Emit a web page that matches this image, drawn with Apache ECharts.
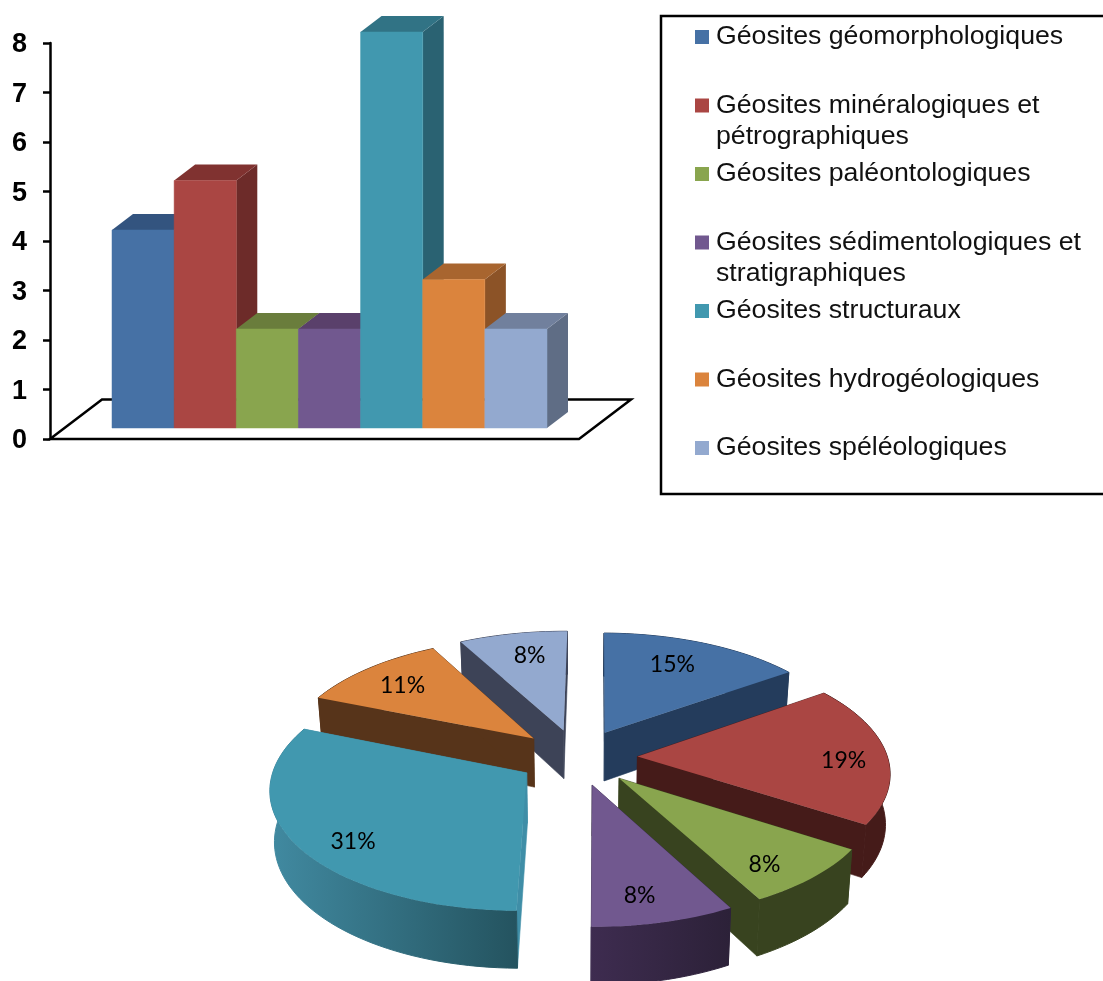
<!DOCTYPE html>
<html lang="fr">
<head>
<meta charset="utf-8">
<title>Géosites</title>
<script src="https://cdn.jsdelivr.net/npm/echarts@6/dist/echarts.min.js"></script>
<style>
  html, body { margin: 0; padding: 0; background: #fff; }
  #chart { width: 1103px; height: 981px; }
</style>
</head>
<body>
<div id="chart"></div>
<script>
// Nombre de géosites par catégorie
const categories = [
  'Géosites géomorphologiques',
  'Géosites minéralogiques et pétrographiques',
  'Géosites paléontologiques',
  'Géosites sédimentologiques et stratigraphiques',
  'Géosites structuraux',
  'Géosites hydrogéologiques',
  'Géosites spéléologiques'
];
const siteCounts = [4, 5, 2, 2, 8, 3, 2];
const pieShares = [15, 19, 8, 8, 31, 11, 8];
const yTicks = [0, 8];

// Libellés de légende, coupés aux mêmes endroits que la ligne de texte
const legendLines = [
  ['Géosites géomorphologiques'],
  ['Géosites minéralogiques et', 'pétrographiques'],
  ['Géosites paléontologiques'],
  ['Géosites sédimentologiques et', 'stratigraphiques'],
  ['Géosites structuraux'],
  ['Géosites hydrogéologiques'],
  ['Géosites spéléologiques']
];

// Teintes des faces
const frontColors = ['#4671a5', '#aa4643', '#89a54e', '#71588f', '#4198af', '#db843d', '#93a9cf'];
const topColors = ['#33547f', '#803230', '#6a7d3c', '#5a406b', '#317385', '#a8652f', '#71809d'];
const sideColors = ['#2f4b6e', '#6d2b29', '#56682f', '#4a3a5f', '#2a6272', '#8c5327', '#5f6d85'];
const pieWallColors = ['#243c5c', '#451b19', '#38431f', '#35284a', '#3f8ea7', '#57341a', '#3d4357'];
const pieRimColors = [
  ['#243c5c', '#243c5c'], ['#451b19', '#451b19'], ['#38431f', '#38431f'], ['#3e2c50', '#2c2138'],
  ['#418aa1', '#24535f'], ['#57341a', '#57341a'], ['#3d4357', '#3d4357']
];
const labelRadius = [0.74, 0.82, 0.82, 0.81, 0.82, 0.77, 0.76];
const labelTurn = [-3.1, 3.2, 4.2, 2.5, -6.4, -0.9, 1.7];

// Extrusion des barres et décalage vers le fond du plancher
const DEPTH_X = 21, DEPTH_Y = 16, BASE_SHIFT = 11;

function renderBar(params, api) {
  const i = api.value(0);
  const top = api.coord([i, api.value(1)]);
  const bottom = api.coord([i, 0]);
  const w = api.size([1, 0])[0];
  const x0 = top[0] - w / 2, x1 = top[0] + w / 2;
  const y0 = top[1] - BASE_SHIFT, y1 = bottom[1] - BASE_SHIFT;
  return {
    type: 'group',
    children: [
      { type: 'polygon', shape: { points: [[x1, y0], [x1 + DEPTH_X, y0 - DEPTH_Y], [x1 + DEPTH_X, y1 - DEPTH_Y], [x1, y1]] },
        style: { fill: sideColors[i] } },
      { type: 'polygon', shape: { points: [[x0, y0], [x0 + DEPTH_X, y0 - DEPTH_Y], [x1 + DEPTH_X, y0 - DEPTH_Y], [x1, y0]] },
        style: { fill: topColors[i] } },
      { type: 'rect', shape: { x: x0, y: y0, width: w, height: y1 - y0 },
        style: { fill: frontColors[i], stroke: frontColors[i], lineWidth: 0.5 } }
    ]
  };
}

// Projection en perspective du disque du secteur éclaté
const PIE = { cx: 577.5, cy: 757, dist: 8.26, fx: 2065, fy: 968, burst: 0.24, thick: 49.5, shrink: 0.985, turn: 0.6 };
const rad = (d) => d * Math.PI / 180;

function project(X, Y, lower) {
  const s = PIE.dist + Y;
  let x = PIE.fx * X / s;
  let y = -PIE.fy * Y / s;
  if (lower) {
    x *= PIE.shrink;
    y += PIE.thick * PIE.dist / s;
  }
  return [PIE.cx + x, PIE.cy + y];
}

const pieTotal = pieShares.reduce((a, b) => a + b, 0);
let running = 0;
const pieSlices = pieShares.map((v, i) => {
  const start = running / pieTotal * 360 + PIE.turn;
  running += v;
  const end = running / pieTotal * 360 + PIE.turn;
  return { i, v, start, end, mid: (start + end) / 2 };
});
// Du fond vers l'avant, pour que les secteurs proches recouvrent les autres
const pieOrder = pieSlices.slice().sort((a, b) => Math.cos(rad(b.mid)) - Math.cos(rad(a.mid)));

function renderSlice(params, api) {
  const slice = pieOrder[params.dataIndex];
  const i = slice.i;
  const ox = PIE.burst * Math.sin(rad(slice.mid));
  const oy = PIE.burst * Math.cos(rad(slice.mid));
  const rim = [];
  const steps = Math.ceil((slice.end - slice.start) / 2);
  for (let k = 0; k <= steps; k++) {
    const a = rad(slice.start + (slice.end - slice.start) * k / steps);
    rim.push([ox + Math.sin(a), oy + Math.cos(a)]);
  }
  const apex = [ox, oy];
  const upper = (p) => project(p[0], p[1], false);
  const lower = (p) => project(p[0], p[1], true);
  const wall = (a, b) => ({
    type: 'polygon',
    shape: { points: [upper(a), upper(b), lower(b), lower(a)] },
    style: { fill: pieWallColors[i], stroke: pieWallColors[i], lineWidth: 0.6 }
  });
  const rimGradient = {
    type: 'linear', x: 0, y: 0, x2: 1, y2: 0,
    colorStops: [{ offset: 0, color: pieRimColors[i][0] }, { offset: 1, color: pieRimColors[i][1] }]
  };
  const rimFace = {
    type: 'polygon',
    shape: { points: rim.map(upper).concat(rim.slice().reverse().map(lower)) },
    style: { fill: rimGradient, stroke: rimGradient, lineWidth: 1 }
  };
  const la = rad(slice.mid + labelTurn[i]);
  const lp = project(ox + labelRadius[i] * Math.sin(la), oy + labelRadius[i] * Math.cos(la), false);
  return {
    type: 'group',
    children: [
      wall(apex, rim[0]),
      wall(apex, rim[rim.length - 1]),
      rimFace,
      { type: 'polygon', shape: { points: [upper(apex)].concat(rim.map(upper)) },
        style: { fill: frontColors[i] } },
      { type: 'text', x: lp[0] + 0.5, y: lp[1] + 1,
        style: { text: api.value(0) + '%', fill: '#000', font: '23px Lato', align: 'center', verticalAlign: 'middle' } }
    ]
  };
}

const barSeries = categories.map((name, i) => ({
  type: 'custom',
  name,
  renderItem: renderBar,
  encode: { x: 0, y: 1 },
  itemStyle: { color: frontColors[i] },
  data: [[i, siteCounts[i]]],
  z: 3 + i
}));

const chart = echarts.init(document.getElementById('chart'), null, { renderer: 'canvas' });
chart.setOption({
  animation: false,
  backgroundColor: '#fff',
  grid: { left: 112, top: 43, width: 435, height: 396 },
  xAxis: { type: 'category', data: categories, show: false },
  yAxis: {
    type: 'value', min: yTicks[0], max: yTicks[1], interval: 1,
    position: 'left', offset: 62,
    axisLine: { show: true, lineStyle: { color: '#000', width: 2.5 } },
    axisTick: { show: true, length: 7, lineStyle: { color: '#000', width: 2.5 } },
    axisLabel: {
      margin: 23,
      formatter: '{tick|{value}}',
      rich: {
        tick: { padding: [4, 0, 0, 0], color: '#000', fontFamily: 'Liberation Sans', fontWeight: 'bold', fontSize: 27 }
      }
    },
    splitLine: { show: false }
  },
  legend: {
    orient: 'vertical', left: 695, top: -9.5, padding: 0,
    itemWidth: 14, itemHeight: 14, itemGap: -24.5, icon: 'rect',
    selectedMode: false,
    data: categories,
    formatter: (name) => {
      const lines = legendLines[categories.indexOf(name)];
      return lines.length > 1 ? '\n' + lines.join('\n') : '\n' + lines[0] + '\n';
    },
    textStyle: { color: '#111', fontFamily: 'Liberation Sans', fontSize: 26.7, lineHeight: 31, padding: [0, 0, 0, 2] }
  },
  graphic: [
    { type: 'polygon', z: 0, silent: true,
      shape: { points: [[50, 439], [579, 439], [631, 399.5], [102, 399.5]] },
      style: { fill: '#fff', stroke: '#000', lineWidth: 2.5 } },
    { type: 'rect', z: 0, silent: true,
      shape: { x: 661, y: 16, width: 520, height: 478 },
      style: { fill: 'transparent', stroke: '#000', lineWidth: 2.5 } }
  ],
  series: barSeries.concat([{
    type: 'custom',
    name: 'Répartition',
    coordinateSystem: 'none',
    renderItem: renderSlice,
    data: pieOrder.map((s) => [s.v]),
    z: 20
  }])
});
</script>
</body>
</html>
